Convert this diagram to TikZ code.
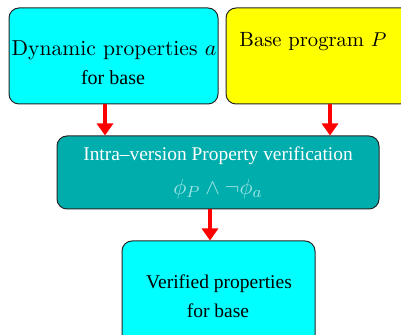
\documentclass[tikz,border=0pt]{standalone}
\usepackage{fontspec}
\newfontfamily\tms[Ligatures=TeX]{Liberation Serif}
\usetikzlibrary{fit,arrows.meta}
\definecolor{aquabox}{RGB}{0,255,255}
\definecolor{yellowbox}{RGB}{255,255,0}
\definecolor{tealbox}{RGB}{0,173,173}
\definecolor{mathtint}{RGB}{160,230,230}
\tikzset{
  x=0.5pt, y=-0.5pt,
  box/.style={draw=black!85, line width=0.5pt, rounded corners=5pt, inner sep=0pt},
  flow/.style={draw=red, line width=2pt, -{Triangle[width=8pt,length=6pt]}},
  lbl/.style={inner sep=0pt, anchor=center}
}
\begin{document}
\begin{tikzpicture}
\useasboundingbox (0,0) rectangle (401,335);
% boxes
\node[box, fill=aquabox, fit={(9,8) (218,104)}] (dyn) {};
\node[box, fill=yellowbox, fit={(226,8) (412,104)}] (base) {};
\node[box, fill=tealbox, fit={(57,136) (379,209)}] (intra) {};
\node[box, fill=aquabox, fit={(122,241) (315,346)}] (ver) {};
% texts
\node[lbl, font=\fontsize{10.8}{13}\selectfont] (t1) at (114,50) {Dynamic properties $a$};
\node[lbl, font=\tms\fontsize{10}{12}\selectfont] (t2) at (113,78) {for base};
\node[lbl, font=\fontsize{10.3}{12}\selectfont] (t3) at (313,42) {Base program $P$};
\node[lbl, text=white, font=\tms\fontsize{9.7}{12}\selectfont] (t4) at (218,156) {Intra--version Property verification};
\node[lbl, text=mathtint, font=\fontsize{11}{13}\selectfont] (t5) at (218,189) {$\phi_P \land \neg\phi_a$};
\node[lbl, font=\tms\fontsize{9.75}{12}\selectfont] (t6) at (219,284) {Verified properties};
\node[lbl, font=\tms\fontsize{9.75}{12}\selectfont] (t7) at (218,311) {for base};
% arrows
\draw[flow] (dyn.south -| 105,0) -- (intra.north -| 105,0);
\draw[flow] (base.south -| 330,0) -- (intra.north -| 330,0);
\draw[flow] (intra.south -| 210,0) -- (ver.north -| 210,0);
\end{tikzpicture}
\end{document}
